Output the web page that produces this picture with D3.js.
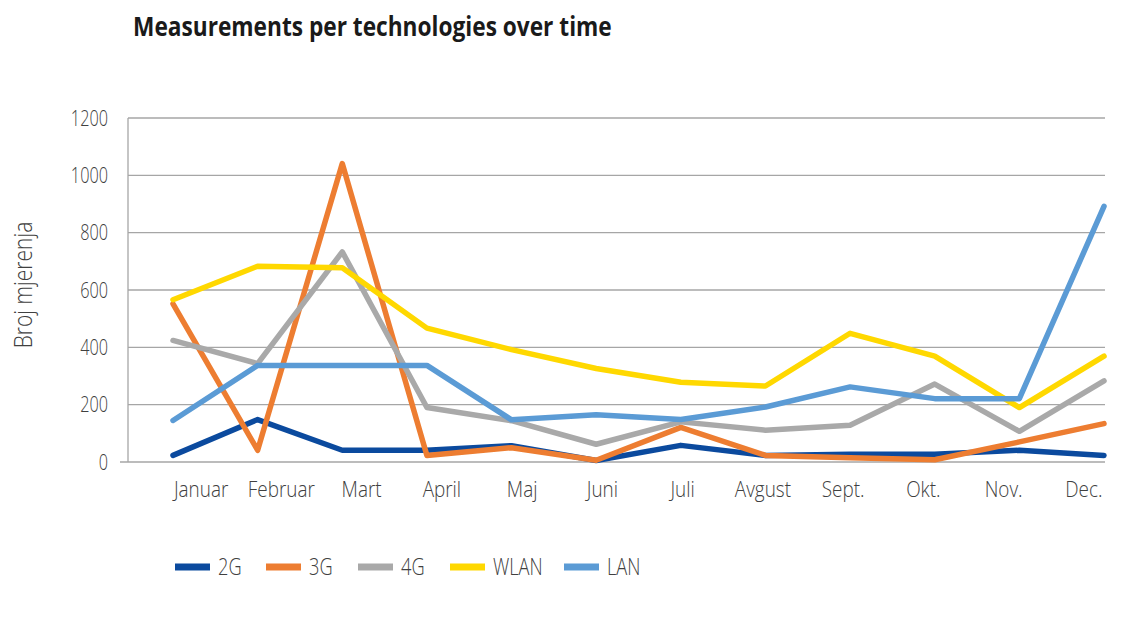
<!DOCTYPE html>
<html>
<head>
<meta charset="utf-8">
<script src="https://cdn.jsdelivr.net/npm/d3@7"></script>
<style>
  body { margin: 0; background: #fff; }
  text { font-family: "Open Sans", "Noto Sans", sans-serif; font-weight: 300; }
</style>
</head>
<body>
<svg id="chart" width="1131" height="621"></svg>
<script>
// data
const months = ["Januar", "Februar", "Mart", "April", "Maj", "Juni", "Juli", "Avgust", "Sept.", "Okt.", "Nov.", "Dec."];
const yTicks = [0, 200, 400, 600, 800, 1000, 1200];
const series2G   = [23, 148, 41, 41, 57, 5, 58, 23, 27, 27, 41, 23];
const series3G   = [552, 41, 1041, 23, 50, 6, 121, 23, 15, 8, 70, 134];
const series4G   = [424, 343, 733, 190, 144, 62, 140, 111, 128, 272, 107, 283];
const seriesWLAN = [566, 683, 678, 467, 392, 326, 278, 265, 449, 369, 190, 369];
const seriesLAN  = [145, 337, 337, 337, 147, 165, 148, 192, 262, 221, 221, 892];

const series = [
  { name: "2G", values: series2G, color: "#0b4a9e" },
  { name: "3G", values: series3G, color: "#ed7d31" },
  { name: "4G", values: series4G, color: "#a9a9a9" },
  { name: "WLAN", values: seriesWLAN, color: "#ffd800" },
  { name: "LAN", values: seriesLAN, color: "#5b9bd5" }
];

const svg = d3.select("#chart");
const plotLeft = 128, plotRight = 1105, plotTop = 118, plotBottom = 462;

const x = d3.scalePoint().domain(months).range([173, 1104]);
const xLabels = d3.scaleBand().domain(months).range([161, 1124]);
const y = d3.scaleLinear().domain([0, 1200]).range([plotBottom, plotTop]);

// title, squeezed to the width of the original
const title = svg.append("text")
  .attr("font-size", 27).style("font-weight", 700)
  .attr("fill", "#1a1a1a")
  .text("Measurements per technologies over time");
const titleScale = 479 / title.node().getComputedTextLength();
title.attr("transform", `translate(133,36) scale(${titleScale},1)`);

// gridlines
svg.append("g")
  .selectAll("line")
  .data(yTicks)
  .join("line")
  .attr("x1", d => d === 0 ? 120 : plotLeft)
  .attr("x2", plotRight)
  .attr("y1", d => y(d)).attr("y2", d => y(d))
  .attr("stroke", "#a6a6a6").attr("stroke-width", 1.3);

svg.append("line")
  .attr("x1", plotLeft).attr("x2", plotLeft)
  .attr("y1", plotTop).attr("y2", plotBottom)
  .attr("stroke", "#a6a6a6").attr("stroke-width", 1.3);

// y axis labels
const yAxis = svg.append("g")
  .attr("transform", `translate(${plotLeft - 20},0)`)
  .call(d3.axisLeft(y).tickValues(yTicks).tickFormat(d3.format("d")).tickSize(0).tickPadding(0));
yAxis.attr("font-family", null);
yAxis.select(".domain").remove();
yAxis.selectAll("text")
  .attr("font-size", 22).attr("fill", "#404040")
  .attr("transform", "scale(0.74,1)");

// x axis labels
const xAxis = svg.append("g")
  .attr("transform", `translate(0,${plotBottom + 19})`)
  .call(d3.axisBottom(xLabels).tickSize(0).tickPadding(0));
xAxis.attr("font-family", null);
xAxis.select(".domain").remove();
xAxis.selectAll("text")
  .attr("font-size", 22).attr("fill", "#404040")
  .attr("transform", "scale(0.86,1)");

// axis title
svg.append("text")
  .attr("transform", "translate(32,285) rotate(-90) scale(0.84,1)")
  .attr("text-anchor", "middle")
  .attr("font-size", 25).attr("fill", "#404040")
  .text("Broj mjerenja");

// lines
const line = d3.line()
  .x((d, i) => x(months[i]))
  .y(d => y(d));

svg.append("g")
  .selectAll("path")
  .data(series)
  .join("path")
  .attr("d", d => line(d.values))
  .attr("fill", "none")
  .attr("stroke", d => d.color)
  .attr("stroke-width", 5.5)
  .attr("stroke-linejoin", "round")
  .attr("stroke-linecap", "round");

// legend
const legendX = [175, 266, 358, 450, 564];
const legend = svg.append("g")
  .selectAll("g")
  .data(series)
  .join("g")
  .attr("transform", (d, i) => `translate(${legendX[i]},567)`);

legend.append("line")
  .attr("x1", 0).attr("x2", 35)
  .attr("stroke", d => d.color).attr("stroke-width", 7);

legend.append("text")
  .attr("transform", "translate(43,8) scale(0.76,1)")
  .attr("font-size", 24).attr("fill", "#404040")
  .text(d => d.name);
</script>
</body>
</html>
